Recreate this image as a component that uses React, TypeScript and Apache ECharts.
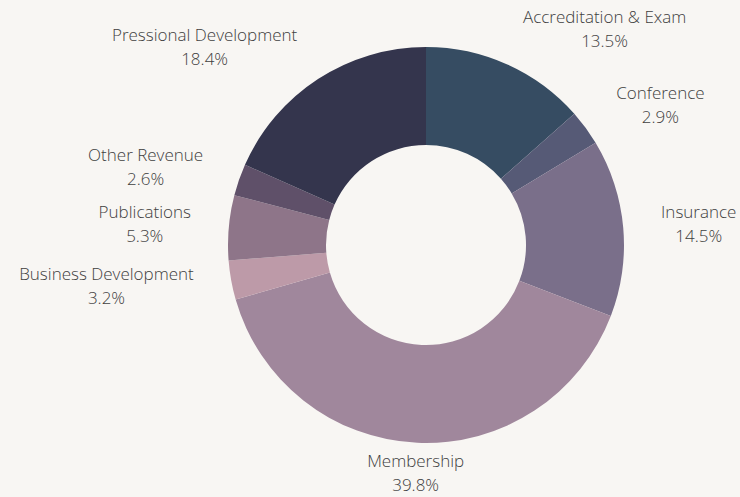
import React, { useEffect, useRef } from "react";
import * as echarts from "echarts";

const categories = [
  "Accreditation & Exam",
  "Conference",
  "Insurance",
  "Membership",
  "Business Development",
  "Publications",
  "Other Revenue",
  "Pressional Development",
];
const shares = [13.5, 2.9, 14.5, 39.8, 3.2, 5.3, 2.6, 18.4];
const colors = [
  "#364c62",
  "#565a76",
  "#7a6f8a",
  "#a0879c",
  "#bd9aa8",
  "#8e7589",
  "#5f5069",
  "#34354d",
];

export default function App() {
  const ref = useRef<HTMLDivElement>(null);
  useEffect(() => {
    if (!ref.current) return;
    const chart = echarts.init(ref.current, null, { renderer: "svg" });
    chart.setOption({
      animation: false,
      backgroundColor: "#f8f6f3",
      series: [
        {
          type: "pie",
          center: [426, 245],
          radius: [100, 198],
          startAngle: 90,
          clockwise: true,
          avoidLabelOverlap: false,
          data: categories.map((c, i) => ({
            name: c,
            value: shares[i],
            itemStyle: { color: colors[i] },
          })),
          label: {
            show: true,
            position: "outside",
            distanceToLabelLine: 0,
            formatter: (p: any) => `{n|${p.name}}\n{n|${Number(p.value).toFixed(1)}%}`,
            rich: {
              n: {
                align: "center",
                fontFamily: "Open Sans",
                fontWeight: 300,
                fontSize: 17,
                lineHeight: 24,
                color: "#404040",
              },
            },
          },
          labelLine: { show: false, length: 38, length2: 0 },
          labelLayout: (params: any) => {
            if (params.dataIndex === 3) {
              return { align: "center", dy: -8 };
            }
            return { dy: -1 };
          },
          emphasis: { disabled: true },
        },
      ],
    });
    return () => chart.dispose();
  }, []);
  return (
    <div
      ref={ref}
      style={{ position: "absolute", left: 0, top: 0, width: 740, height: 497 }}
    />
  );
}
